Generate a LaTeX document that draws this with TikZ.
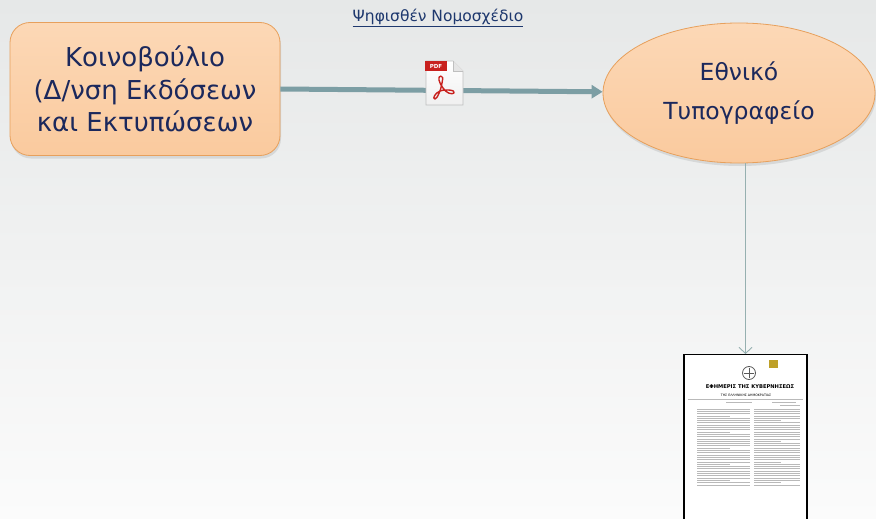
\documentclass[tikz,border=0pt]{standalone}
\usepackage{fontspec}
\setmainfont{DejaVu Sans}
\usepackage{tikz}
\usetikzlibrary{arrows.meta,shapes.geometric,shadows}
\definecolor{inkblue}{RGB}{27,40,92}
\definecolor{titleblue}{RGB}{30,56,110}
\definecolor{peach}{RGB}{250,202,158}
\definecolor{peachtop}{RGB}{252,216,182}
\definecolor{peachedge}{RGB}{231,160,92}
\definecolor{flowteal}{RGB}{124,158,164}
\definecolor{thinteal}{RGB}{150,176,176}
\definecolor{bgtop}{RGB}{230,232,232}
\definecolor{bgbottom}{RGB}{251,251,251}
\definecolor{pdfred}{RGB}{200,33,30}
\definecolor{crest}{RGB}{190,160,40}

\tikzset{
  orgbox/.style={draw=peachedge, line width=0.8pt, top color=peachtop, bottom color=peach,
    text=inkblue, align=center,
    drop shadow={shadow xshift=1pt, shadow yshift=-3pt, opacity=0.2}},
  flow/.style={line width=5pt, flowteal, -{Triangle[length=11pt,width=13pt]}},
  output/.style={thinteal, line width=0.9pt, -{Straight Barb[length=6pt,width=13pt]}},
  textrule/.style={gray!55, line width=0.7pt},
}

\begin{document}
\begin{tikzpicture}[x=1pt, y=-1pt]
    \clip (0,0) rectangle (876,519);
    \shade[top color=bgtop, bottom color=bgbottom] (0,0) rectangle (876,519);

    % title
    \node[titleblue, font=\fontsize{15.5}{18}\selectfont] (title) at (438,18) {\underline{Ψηφισθέν Νομοσχέδιο}};

    % parliament and printing office
    \node[orgbox, rectangle, rounded corners=20pt, minimum width=270pt, minimum height=133pt,
        font=\fontsize{26}{32.5}\selectfont]
        (parl) at (145,89) {Κοινοβούλιο\\(Δ/νση Εκδόσεων\\και Εκτυπώσεων};
    \node[orgbox, ellipse, inner sep=0pt, minimum width=272pt, minimum height=140pt,
        font=\fontsize{23.5}{39}\selectfont]
        (etypo) at (739,93) {Εθνικό\\Τυπογραφείο};

    % gazette sheet
    \node[draw=black, line width=1.2pt, fill=white, minimum width=123pt, minimum height=180pt,
        anchor=north, inner sep=0pt] (fek) at (745.5,354) {};

    % transfer of the pdf file
    \draw[flow] (parl.east) -- (etypo);
    \draw[output] (etypo.south -| fek.north) -- (fek.north);

    % pdf icon
    \coordinate (pdf) at (444,83);
    \shade[top color=white, bottom color=gray!12, draw=gray!50, line width=0.6pt]
        (426,61) -- (453,61) -- (463,71) -- (463,105) -- (426,105) -- cycle;
    \draw[gray!50, fill=gray!20, line width=0.6pt] (453,61) -- (453,71) -- (463,71);
    \fill[pdfred] (425,61) rectangle (447,71);
    \node[white, font=\fontsize{5.5}{6}\selectfont\bfseries, inner sep=0pt] at (436,66) {PDF};
    \draw[pdfred, line width=1.4pt, line join=round]
        (441,76) .. controls (437,76) and (439,83) .. (443,88)
        .. controls (446,93) and (452,95) .. (454,93)
        .. controls (456,90) and (446,89) .. (440,91)
        .. controls (435,93) and (432,99) .. (435,99)
        .. controls (437,99) and (441,90) .. (442,83)
        .. controls (443,78) and (443,76) .. (441,76);

    % gazette header
    \draw[gray!70!black, line width=0.8pt] (749,373) circle (6.5pt);
    \draw[gray!70!black, line width=0.9pt] (749,368) -- (749,378) (744,373) -- (754,373);
    \fill[crest] (769,360) rectangle (778,368);
    \node[font=\fontsize{5.2}{6}\selectfont\bfseries, inner sep=0pt] (fekhead) at (750,387) {ΕΦΗΜΕΡΙΣ ΤΗΣ ΚΥΒΕΡΝΗΣΕΩΣ};
    \node[font=\fontsize{3.2}{4}\selectfont, inner sep=0pt] (fekdemo) at (746,395) {ΤΗΣ ΕΛΛΗΝΙΚΗΣ ΔΗΜΟΚΡΑΤΙΑΣ};
    \draw[textrule] (688,399) -- (803,399);
    \draw[textrule] (726,402) -- (752,402);
    \draw[textrule] (772,402) -- (796,402) (780,405) -- (800,405);

    % two text columns
    \foreach \i in {0,...,33} {
        \pgfmathsetmacro{\yy}{409+2.3*\i}
        \pgfmathsetmacro{\la}{mod(\i,7)==3 ? 730 : 750}
        \pgfmathsetmacro{\ra}{mod(\i,9)==5 ? 781 : 800}
        \draw[textrule] (697,\yy) -- (\la,\yy);
        \draw[textrule] (754,\yy) -- (\ra,\yy);
    }
\end{tikzpicture}
\end{document}
